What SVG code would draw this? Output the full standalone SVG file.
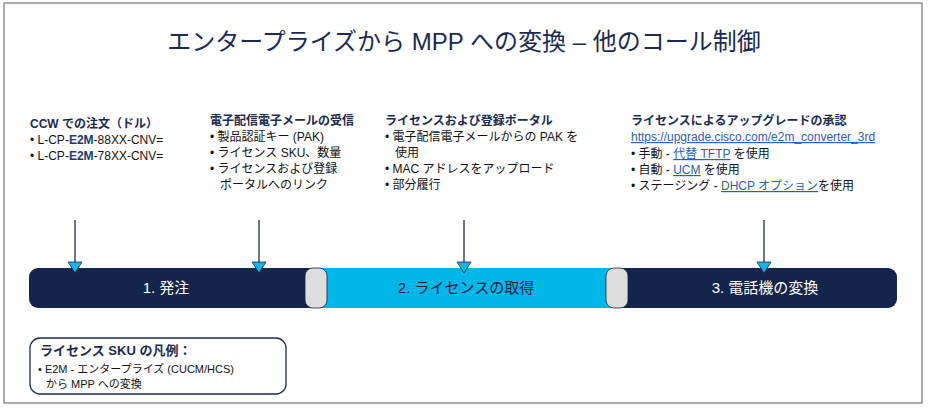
<svg xmlns="http://www.w3.org/2000/svg" width="928" height="408" viewBox="0 0 928 408">
<defs>
<style>
text{font-family:"Liberation Sans","Noto Sans CJK JP",sans-serif;}
.h{font-size:12px;font-weight:bold;fill:#1b2a4e;}
.t{font-size:12px;fill:#111;}
.s{font-size:11px;fill:#111;}
.b{fill:#1b3a6b;font-weight:bold;}
.lk{fill:#2a5fb0;text-decoration:underline;}
.bar{font-size:15px;text-anchor:middle;}
.arr{stroke:#1b2a4e;stroke-width:1.3;fill:none;}
.head{fill:#18b4e8;stroke:#1b2a4e;stroke-width:0.8;}
</style>
</defs>
<rect x="4" y="3" width="918" height="400" fill="#fff" stroke="#777" stroke-width="1.2"/>
<text x="464" y="50" font-size="24" text-anchor="middle" fill="#1b2a4e">エンタープライズから MPP への変換 – 他のコール制御</text>

<g id="col1">
<text class="h" x="30" y="128">CCW での注文（ドル）</text>
<text class="t" x="30" y="144">• L-CP-<tspan class="b">E2M</tspan>-88XX-CNV=</text>
<text class="t" x="30" y="160">• L-CP-<tspan class="b">E2M</tspan>-78XX-CNV=</text>
</g>
<g id="col2">
<text class="h" x="210" y="125">電子配信電子メールの受信</text>
<text class="t" x="210" y="141">• 製品認証キー (PAK)</text>
<text class="t" x="210" y="157">• ライセンス SKU、数量</text>
<text class="t" x="210" y="173">• ライセンスおよび登録</text>
<text class="t" x="220" y="189">ポータルへのリンク</text>
</g>
<g id="col3">
<text class="h" x="385" y="125">ライセンスおよび登録ポータル</text>
<text class="t" x="385" y="141">• 電子配信電子メールからの PAK を</text>
<text class="t" x="395" y="157">使用</text>
<text class="t" x="385" y="173">• MAC アドレスをアップロード</text>
<text class="t" x="385" y="189">• 部分履行</text>
</g>
<g id="col4">
<text class="h" x="631" y="125">ライセンスによるアップグレードの承認</text>
<text class="t lk" x="631" y="141">https://upgrade.cisco.com/e2m_converter_3rd</text>
<text class="t" x="631" y="158">• 手動 - <tspan class="lk">代替 TFTP</tspan> を使用</text>
<text class="t" x="631" y="174">• 自動 - <tspan class="lk">UCM</tspan> を使用</text>
<text class="t" x="631" y="190">• ステージング - <tspan class="lk">DHCP オプション</tspan>を使用</text>
</g>

<g id="bar">
<rect x="29" y="268" width="868" height="40" rx="9" fill="#13254a"/>
<rect x="318" y="268" width="300" height="40" fill="#00b5e8"/>
<rect x="305" y="268" width="22" height="40" rx="8" fill="#dedede" stroke="#13254a" stroke-width="0.8"/>
<rect x="606" y="268" width="22" height="40" rx="8" fill="#dedede" stroke="#13254a" stroke-width="0.8"/>
<text class="bar" x="166" y="293" fill="#fff">1. 発注</text>
<text class="bar" x="466" y="293" fill="#13254a">2. ライセンスの取得</text>
<text class="bar" x="765" y="293" fill="#fff">3. 電話機の変換</text>
</g>

<g id="connectors">
<line class="arr" x1="75" y1="220" x2="75" y2="262"/>
<polygon class="head" points="68,262 82,262 75,273"/>
<line class="arr" x1="259" y1="220" x2="259" y2="262"/>
<polygon class="head" points="252,262 266,262 259,273"/>
<line class="arr" x1="464" y1="220" x2="464" y2="262"/>
<polygon class="head" points="457,262 471,262 464,273"/>
<line class="arr" x1="764" y1="220" x2="764" y2="262"/>
<polygon class="head" points="757,262 771,262 764,273"/>
</g>

<g id="legend">
<rect x="30" y="338" width="256" height="56" rx="10" fill="#fff" stroke="#1b2a4e" stroke-width="1.3"/>
<text x="40" y="355" font-size="13" font-weight="bold" fill="#1b2a4e">ライセンス SKU の凡例：</text>
<text class="s" x="38" y="373">• E2M - エンタープライズ (CUCM/HCS)</text>
<text class="s" x="46" y="388">から MPP への変換</text>
</g>
</svg>
